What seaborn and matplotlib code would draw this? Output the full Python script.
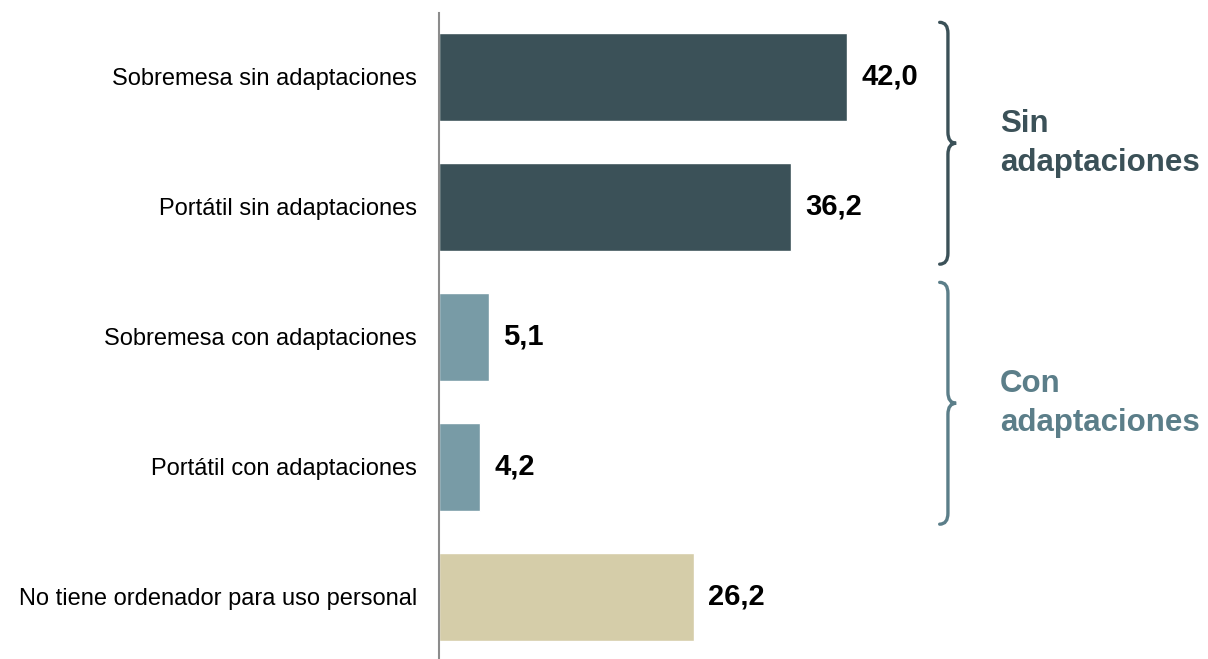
import matplotlib
matplotlib.use("Agg")
import matplotlib.pyplot as plt
from matplotlib.path import Path
from matplotlib.patches import PathPatch
import seaborn as sns
import pandas as pd

# Data
categories = ["Sobremesa sin adaptaciones", "Portátil sin adaptaciones",
              "Sobremesa con adaptaciones", "Portátil con adaptaciones",
              "No tiene ordenador para uso personal"]
values = [42.0, 36.2, 5.1, 4.2, 26.2]
bar_colors = ["#3b5158", "#3b5158", "#789ba6", "#789ba6", "#d5cda9"]
group_labels = ["Sin\nadaptaciones", "Con\nadaptaciones"]
group_rows = [(0, 1), (2, 3)]
group_colors = ["#3b5158", "#5b7e89"]

df = pd.DataFrame({"cat": categories, "val": values})

sns.set_style("white")
plt.rcParams["font.family"] = ["Liberation Sans", "DejaVu Sans"]

fig = plt.figure(figsize=(12.08, 6.59), dpi=100)
ax = fig.add_axes([0.3634, 0.0, 0.6366, 0.9803])

sns.barplot(data=df, x="val", y="cat", hue="cat", palette=bar_colors,
            legend=False, width=0.67, ax=ax, saturation=1)

ax.set_xlim(0, 79.1)
ax.set_ylim(4.477, -0.492)

# value labels
for i, v in enumerate(values):
    ax.text(v + 1.5, i, f"{v:.1f}".replace(".", ","), va="center", ha="left",
            fontsize=21, fontweight="bold", color="black")

# braces with group labels
def draw_brace(ax, y0, y1, x, color):
    xs = 0.85  # horizontal reach of curl (data units)
    dy = 0.085
    mid = (y0 + y1) / 2
    verts = [(x, y0), (x + xs, y0), (x + xs, y0 + dy),
             (x + xs, mid - dy), (x + xs, mid), (x + 2 * xs, mid),
             (x + xs, mid), (x + xs, mid + dy),
             (x + xs, y1 - dy), (x + xs, y1), (x, y1)]
    codes = [Path.MOVETO, Path.CURVE3, Path.CURVE3,
             Path.LINETO, Path.CURVE3, Path.CURVE3,
             Path.CURVE3, Path.CURVE3,
             Path.LINETO, Path.CURVE3, Path.CURVE3]
    ax.add_patch(PathPatch(Path(verts, codes), fill=False, edgecolor=color,
                           lw=2.4, capstyle="round", clip_on=False))

for (a, b), lab, col in zip(group_rows, group_labels, group_colors):
    y0, y1 = a - 0.42, b + 0.44
    draw_brace(ax, y0, y1, 51.5, col)
    ax.text(57.7, (y0 + y1) / 2, lab, ha="left", va="center", fontsize=22.5,
            fontweight="bold", color=col, linespacing=1.4)

# axes styling
for s in ["top", "right", "bottom"]:
    ax.spines[s].set_visible(False)
ax.spines["left"].set_color("#8c8c8c")
ax.spines["left"].set_linewidth(1.5)
ax.set_xticks([])
ax.set_xlabel("")
ax.set_ylabel("")
ax.tick_params(axis="y", length=0, pad=16, labelsize=17, labelcolor="black")

fig.savefig("out.png", dpi=100)
